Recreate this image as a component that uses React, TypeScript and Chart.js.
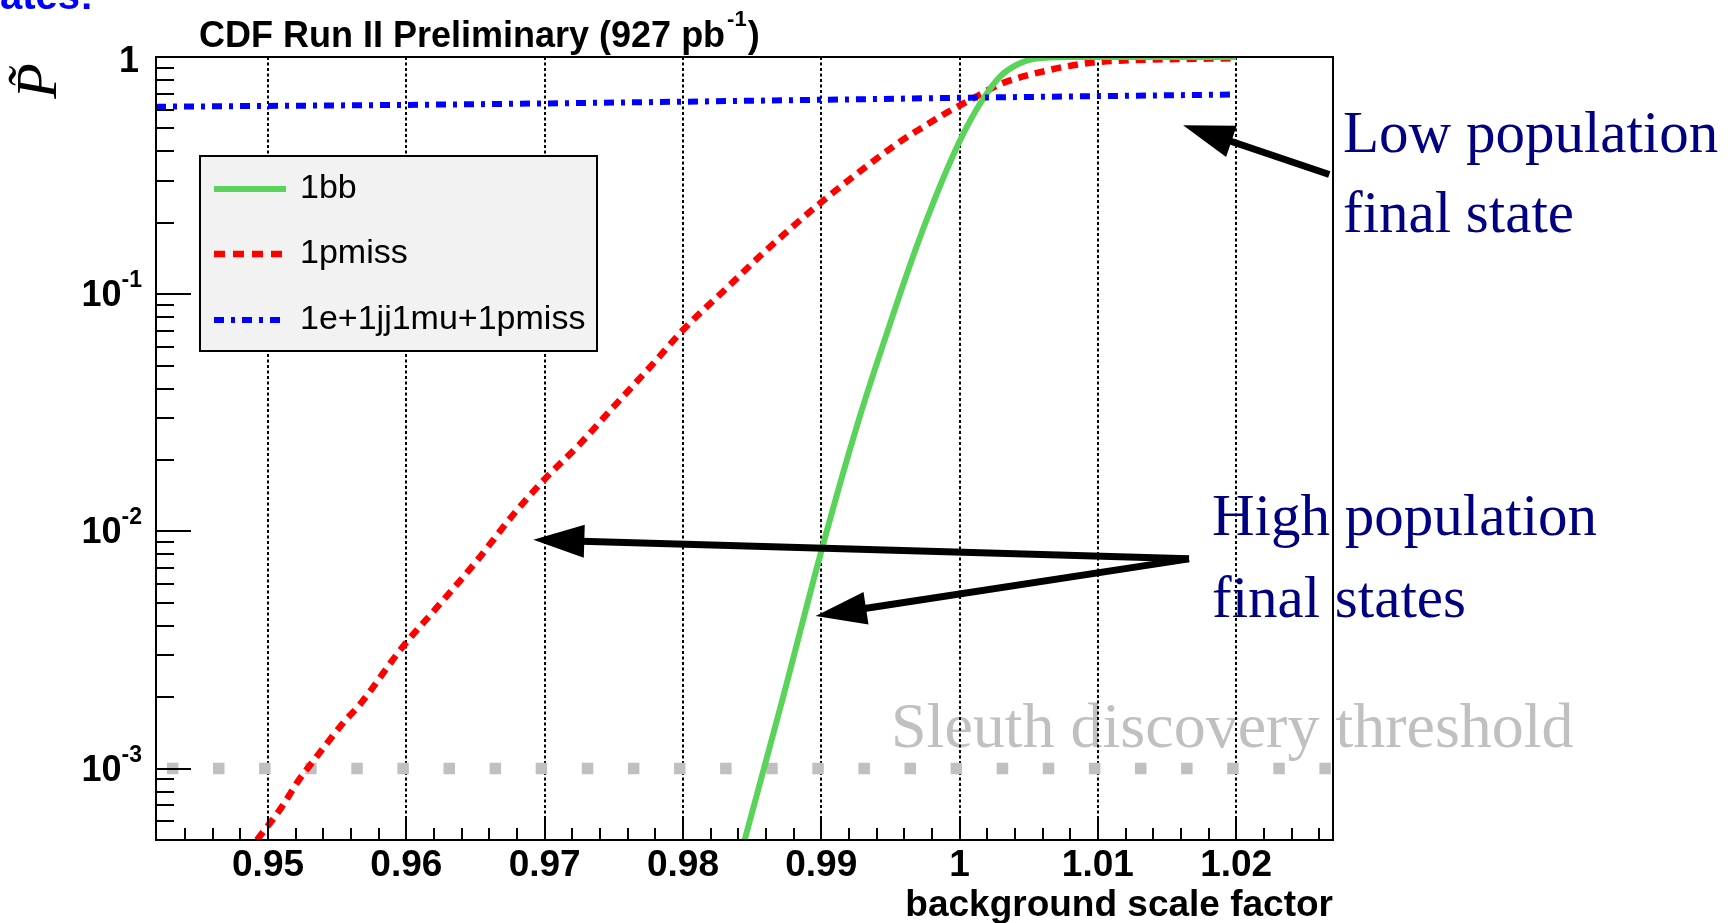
import React, { useEffect, useRef } from 'react';
import { Chart, registerables } from 'chart.js';

Chart.register(...registerables);

// ---- axes ----
const X_MIN = 0.9419;
const X_MAX = 1.027;
const Y_MIN = 5e-4;
const Y_MAX = 1;
const X_TICKS = [0.95, 0.96, 0.97, 0.98, 0.99, 1.0, 1.01, 1.02];
const X_TICK_LABELS = ['0.95', '0.96', '0.97', '0.98', '0.99', '1', '1.01', '1.02'];
const Y_TICKS = [1e-3, 1e-2, 1e-1, 1];
const Y_TICK_EXPONENTS = ['-3', '-2', '-1', ''];
const SERIES_LABELS = ['1bb', '1pmiss', '1e+1jj1mu+1pmiss'];

// ---- series ----
const BB_X = [0.98446, 0.98723, 0.98999, 0.99275, 0.99497, 0.99688, 0.99818, 0.9994, 1.00055, 1.00175, 1.00296, 1.00417, 1.00535, 1.00656, 1.0077, 1.02];
const BB_Y = [5.0e-4, 1.99e-3, 8.2e-3, 0.030, 0.075, 0.158, 0.25, 0.37, 0.511, 0.673, 0.831, 0.93, 0.983, 0.995, 1.0, 1.0];

const PMISS_X = [0.9492, 0.951, 0.9522, 0.9535, 0.9556, 0.9566, 0.9597, 0.9621, 0.965, 0.9678, 0.97, 0.9725, 0.975, 0.9778, 0.98, 0.9833, 0.9858, 0.99, 0.9957, 0.9972, 0.9989, 1.0, 1.0013, 1.003, 1.0041, 1.006, 1.0077, 1.0096, 1.0125, 1.0173, 1.02];
const PMISS_Y = [5.0e-4, 6.9e-4, 8.9e-4, 1.12e-3, 1.6e-3, 1.85e-3, 3.24e-3, 4.7e-3, 7.4e-3, 0.0119, 0.0166, 0.0232, 0.0336, 0.0506, 0.0706, 0.108, 0.149, 0.244, 0.44, 0.5, 0.575, 0.624, 0.686, 0.772, 0.812, 0.868, 0.912, 0.948, 0.97, 0.983, 0.988];

const EJMU_X = [0.9419, 0.95, 0.96, 0.97, 0.98, 0.99, 1.0, 1.01, 1.02];
const EJMU_Y = [0.617, 0.622, 0.628, 0.637, 0.648, 0.66, 0.673, 0.684, 0.695];

const THRESHOLD = 1e-3;

// ---- annotation arrows (data coordinates: [x, y]) ----
const ARROW_LOW = { from: [1.02673, 0.3196], to: [1.01616, 0.516] };
const ARROW_HIGH_A = { from: [1.01659, 7.66e-3], to: [0.96918, 9.22e-3] };
const ARROW_HIGH_B = { from: [1.01659, 7.66e-3], to: [0.98959, 4.4e-3] };

const toXY = (xs: number[], ys: number[]) => xs.map((x, i) => ({ x, y: ys[i] }));

const SANS = "'Liberation Sans', Arial, Helvetica, sans-serif";
const SERIF = "'Liberation Serif', 'Times New Roman', serif";
const NAVY = '#000080';
const GREEN = '#59d359';
const RED = '#ff0000';
const BLUE = '#0000ff';
const GRAY = '#c0c0c0';

function drawArrow(ctx: CanvasRenderingContext2D, x1: number, y1: number, x2: number, y2: number) {
  const ang = Math.atan2(y2 - y1, x2 - x1);
  const L = 51;
  const W = 16.5;
  const c = Math.cos(ang);
  const s = Math.sin(ang);
  const bx = x2 - L * c;
  const by = y2 - L * s;
  ctx.save();
  ctx.strokeStyle = '#000';
  ctx.fillStyle = '#000';
  ctx.lineWidth = 7;
  ctx.lineCap = 'butt';
  ctx.setLineDash([]);
  ctx.beginPath();
  ctx.moveTo(x1, y1);
  ctx.lineTo(bx + 3 * c, by + 3 * s);
  ctx.stroke();
  ctx.beginPath();
  ctx.moveTo(x2, y2);
  ctx.lineTo(bx + W * s, by - W * c);
  ctx.lineTo(bx - W * s, by + W * c);
  ctx.closePath();
  ctx.fill();
  ctx.restore();
}

const rootPlugin = {
  id: 'rootStyle',
  beforeDatasetsDraw(chart: any) {
    const { ctx, chartArea: a, scales } = chart;
    const x = scales.x;
    ctx.save();
    // threshold caption (under the grid)
    ctx.fillStyle = GRAY;
    ctx.font = `64px ${SERIF}`;
    ctx.textAlign = 'left';
    ctx.textBaseline = 'alphabetic';
    ctx.fillText('Sleuth discovery threshold', 891, 747);
    // dotted vertical grid
    ctx.strokeStyle = '#000';
    ctx.lineWidth = 2;
    ctx.setLineDash([3, 2.5]);
    for (const v of X_TICKS) {
      const px = Math.round(x.getPixelForValue(v));
      ctx.beginPath();
      ctx.moveTo(px, a.top);
      ctx.lineTo(px, a.bottom);
      ctx.stroke();
    }
    ctx.restore();
  },
  afterDatasetsDraw(chart: any) {
    const { ctx, chartArea: a, scales } = chart;
    const x = scales.x;
    const y = scales.y;
    ctx.save();
    ctx.setLineDash([]);

    // legend
    const lx = 200, ly = 156, lw = 397, lh = 195;
    ctx.fillStyle = '#f2f2f2';
    ctx.fillRect(lx, ly, lw, lh);
    ctx.strokeStyle = '#000';
    ctx.lineWidth = 2;
    ctx.strokeRect(lx, ly, lw, lh);
    const rows = [189, 254, 320];
    const styles = [
      { color: GREEN, width: 6, dash: [] as number[] },
      { color: RED, width: 6.5, dash: [11, 8] },
      { color: BLUE, width: 6, dash: [10, 7, 4, 7] },
    ];
    ctx.font = `34px ${SANS}`;
    ctx.textBaseline = 'middle';
    ctx.textAlign = 'left';
    rows.forEach((ry, i) => {
      const st = styles[i];
      ctx.save();
      ctx.strokeStyle = st.color;
      ctx.lineWidth = st.width;
      ctx.lineCap = 'butt';
      ctx.setLineDash(st.dash);
      ctx.beginPath();
      ctx.moveTo(214, ry);
      ctx.lineTo(286, ry);
      ctx.stroke();
      ctx.restore();
      ctx.fillStyle = '#000';
      ctx.fillText(SERIES_LABELS[i], 300, ry);
    });

    // arrows
    for (const ar of [ARROW_LOW, ARROW_HIGH_A, ARROW_HIGH_B]) {
      drawArrow(
        ctx,
        x.getPixelForValue(ar.from[0]), y.getPixelForValue(ar.from[1]),
        x.getPixelForValue(ar.to[0]), y.getPixelForValue(ar.to[1])
      );
    }

    // annotation texts
    ctx.fillStyle = NAVY;
    ctx.font = `59px ${SERIF}`;
    ctx.textBaseline = 'alphabetic';
    ctx.textAlign = 'left';
    ctx.fillText('Low population', 1343, 152);
    ctx.fillText('final state', 1343, 232);
    ctx.fillText('High population', 1212, 535);
    ctx.fillText('final states', 1212, 617);

    // frame
    ctx.strokeStyle = '#000';
    ctx.lineWidth = 2;
    ctx.strokeRect(Math.round(a.left), Math.round(a.top), Math.round(a.right - a.left), Math.round(a.bottom - a.top));

    // x ticks (inward)
    ctx.lineWidth = 2;
    ctx.beginPath();
    for (let k = 472; k <= 513; k++) {
      const v = k * 0.002;
      const major = k % 5 === 0;
      const px = Math.round(x.getPixelForValue(v));
      ctx.moveTo(px, a.bottom);
      ctx.lineTo(px, a.bottom - (major ? 23 : 12));
    }
    // y ticks (inward)
    for (let d = -4; d <= -1; d++) {
      for (let m = 1; m <= 9; m++) {
        const v = m * Math.pow(10, d);
        if (v < Y_MIN * 0.999 || v > Y_MAX) continue;
        const py = Math.round(y.getPixelForValue(v));
        ctx.moveTo(a.left, py);
        ctx.lineTo(a.left + (m === 1 ? 35 : 18), py);
      }
    }
    {
      const py = Math.round(y.getPixelForValue(1));
      ctx.moveTo(a.left, py);
      ctx.lineTo(a.left + 35, py);
    }
    ctx.stroke();

    // x tick labels
    ctx.fillStyle = '#000';
    ctx.font = `bold 37px ${SANS}`;
    ctx.textAlign = 'center';
    ctx.textBaseline = 'alphabetic';
    X_TICKS.forEach((v, i) => {
      ctx.fillText(X_TICK_LABELS[i], x.getPixelForValue(v), 876);
    });

    // y tick labels with superscripts
    const R = 142;
    Y_TICKS.forEach((v, i) => {
      const py = y.getPixelForValue(v);
      const ex = Y_TICK_EXPONENTS[i];
      ctx.textAlign = 'left';
      if (!ex) {
        ctx.font = `bold 36px ${SANS}`;
        const w = ctx.measureText('1').width;
        ctx.fillText('1', R - 3 - w, py + 15);
        return;
      }
      ctx.font = `bold 23px ${SANS}`;
      const ws = ctx.measureText(ex).width;
      ctx.fillText(ex, R - ws, py - 7);
      ctx.font = `bold 36px ${SANS}`;
      const wb = ctx.measureText('10').width;
      ctx.fillText('10', R - ws - wb, py + 12);
    });

    // x axis title
    ctx.font = `bold 37px ${SANS}`;
    ctx.textAlign = 'right';
    ctx.fillText('background scale factor', a.right, 916);

    // plot title with superscript
    ctx.textAlign = 'left';
    const t1 = 'CDF Run II Preliminary (927 pb';
    let tx = 199;
    ctx.font = `bold 36px ${SANS}`;
    ctx.fillText(t1, tx, 47);
    tx += ctx.measureText(t1).width + 2;
    ctx.font = `bold 22px ${SANS}`;
    ctx.fillText('-1', tx, 26);
    tx += ctx.measureText('-1').width + 1;
    ctx.font = `bold 36px ${SANS}`;
    ctx.fillText(')', tx, 47);

    // y axis title (rotated P with tilde)
    ctx.save();
    ctx.translate(41, 81);
    ctx.rotate(-Math.PI / 2);
    ctx.font = `italic 58px ${SERIF}`;
    ctx.textAlign = 'center';
    ctx.textBaseline = 'middle';
    ctx.fillText('P\u0303', 0, 0);
    ctx.restore();

    // slide text fragment cut off at the top
    ctx.fillStyle = BLUE;
    ctx.font = `bold 40px ${SANS}`;
    ctx.textAlign = 'left';
    ctx.textBaseline = 'alphabetic';
    ctx.fillText('ates:', 0, 9);

    ctx.restore();
  },
};

export default function App() {
  const ref = useRef<HTMLCanvasElement>(null);
  useEffect(() => {
    document.body.style.margin = '0';
    document.body.style.overflow = 'hidden';
    const chart = new Chart(ref.current as HTMLCanvasElement, {
      type: 'line',
      data: {
        datasets: [
          {
            label: SERIES_LABELS[2],
            data: toXY(EJMU_X, EJMU_Y),
            borderColor: BLUE,
            borderWidth: 6,
            borderDash: [10, 7, 4, 7],
            borderCapStyle: 'butt',
            pointRadius: 0,
            tension: 0,
          },
          {
            label: SERIES_LABELS[0],
            data: toXY(BB_X, BB_Y),
            borderColor: GREEN,
            borderWidth: 6,
            pointRadius: 0,
            cubicInterpolationMode: 'monotone',
          },
          {
            label: SERIES_LABELS[1],
            data: toXY(PMISS_X, PMISS_Y),
            borderColor: RED,
            borderWidth: 6.5,
            borderDash: [10, 7],
            borderCapStyle: 'butt',
            pointRadius: 0,
            cubicInterpolationMode: 'monotone',
          },
          {
            label: 'threshold',
            data: [{ x: X_MIN, y: THRESHOLD }, { x: X_MAX, y: THRESHOLD }],
            borderColor: GRAY,
            borderWidth: 11.5,
            borderDash: [11.5, 34.6],
            borderDashOffset: 35.2,
            borderCapStyle: 'butt',
            pointRadius: 0,
          },
        ],
      },
      options: {
        animation: false,
        responsive: false,
        devicePixelRatio: 1,
        events: [],
        layout: { padding: { left: 0, top: 57, right: 403, bottom: 0 } },
        plugins: {
          legend: { display: false },
          title: { display: false },
          tooltip: { enabled: false },
        },
        scales: {
          x: {
            type: 'linear',
            min: X_MIN,
            max: X_MAX,
            ticks: { display: false },
            grid: { display: false },
            border: { display: false },
            afterFit: (s: any) => { s.height = 83; },
          },
          y: {
            type: 'logarithmic',
            min: Y_MIN,
            max: Y_MAX,
            ticks: { display: false },
            grid: { display: false },
            border: { display: false },
            afterFit: (s: any) => { s.width = 156; },
          },
        },
      } as any,
      plugins: [rootPlugin],
    });
    return () => chart.destroy();
  }, []);
  return (
    <div style={{ position: 'absolute', left: 0, top: 0, width: 1736, height: 923, background: '#fff' }}>
      <canvas ref={ref} width={1736} height={923} style={{ display: 'block' }} />
    </div>
  );
}
